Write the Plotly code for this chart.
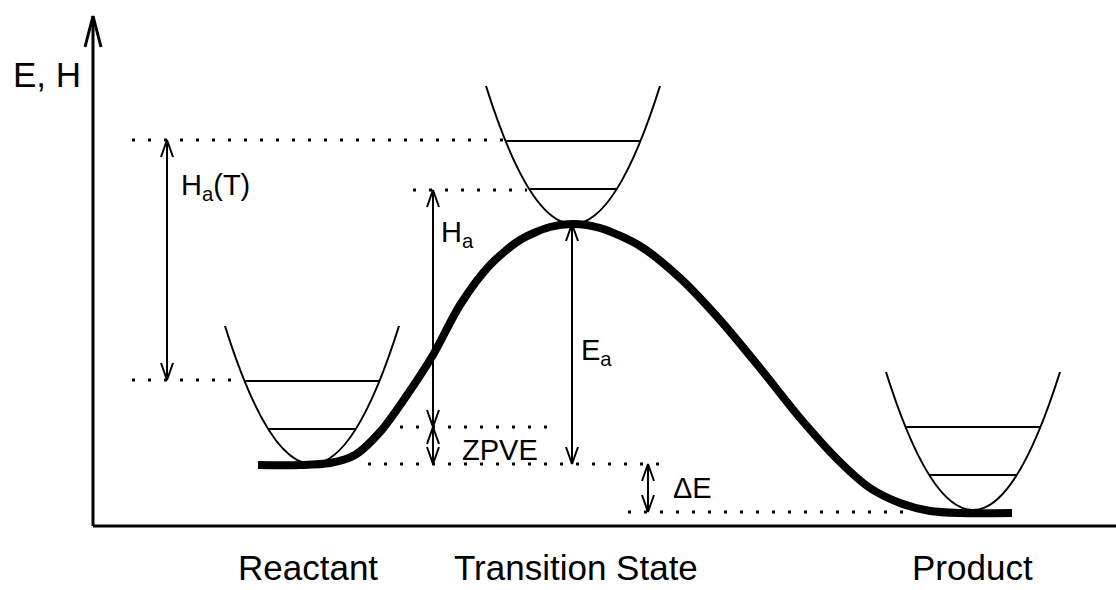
import numpy as np
import plotly.graph_objects as go

# ---- data (x = reaction coordinate in px, E = energy, baseline = x-axis) ----
state_names = ["Reactant", "Transition State", "Product"]
state_label_x = [308, 576, 972]
well_x = [312, 573, 973]          # vertex x of each harmonic well
well_E = [62, 302, 16]            # vertex energy of each well
well_depth = 138                  # energy height of drawn parabola
well_halfwidth = 87               # half width at top of parabola
vib_levels = [35, 83]             # vibrational levels above the vertex

path_x = [258, 300, 330, 355, 380, 405, 433, 460, 490, 520, 550, 573, 600,
          640, 680, 720, 760, 800, 840, 870, 900, 930, 960, 1012]
path_E = [61, 61, 63, 71, 94, 128, 171, 221, 261, 286, 299, 302, 298,
          280, 248, 206, 158, 108, 64, 38, 23, 15, 13, 13]

# reference levels (dotted) : (E, x_start, x_end)
dot_E = [386, 336, 146, 99, 62, 14]
dot_x0 = [132, 413, 132, 400, 368, 628]
dot_x1 = [503, 527, 243, 550, 665, 907]

# double arrows: (x, E_low, E_high)
arrow_x = [167, 433, 433, 572, 648]
arrow_lo = [146, 99, 62, 62, 14]
arrow_hi = [386, 336, 99, 302, 62]

labels = ["H<sub>a</sub>(T)", "H<sub>a</sub>", "ZPVE", "E<sub>a</sub>", "ΔE"]
label_x = [179, 439, 460, 579, 671]
label_E = [339, 292, 76, 174, 38]

FONT = "Arial, Liberation Sans, sans-serif"
fig = go.Figure()

# axes with arrow
ax_x = [93, 93, None, 85, 93, 101, None, 93, 1116]
ax_E = [0, 510, None, 479, 510, 479, None, 0, 0]
fig.add_trace(go.Scatter(x=ax_x, y=ax_E, mode="lines",
                         line=dict(color="black", width=3), hoverinfo="skip"))

# dotted reference lines
for e, a, b in zip(dot_E, dot_x0, dot_x1):
    fig.add_trace(go.Scatter(x=[a, b], y=[e, e], mode="lines",
                             line=dict(color="black", width=3, dash="3px,13px"),
                             hoverinfo="skip"))

# parabolas as quadratic Bezier paths + vibrational levels
lvx, lvy = [], []
for x0, e0 in zip(well_x, well_E):
    top = e0 + well_depth
    ctrl = 2 * e0 - top
    fig.add_shape(type="path", xref="x", yref="y",
                  path=f"M {x0-well_halfwidth},{top} Q {x0},{ctrl} {x0+well_halfwidth},{top}",
                  line=dict(color="black", width=2))
    for d in vib_levels:
        hw = well_halfwidth * np.sqrt(d / well_depth)
        lvx += [x0 - hw, x0 + hw, None]
        lvy += [e0 + d, e0 + d, None]
fig.add_trace(go.Scatter(x=lvx, y=lvy, mode="lines",
                         line=dict(color="black", width=2), hoverinfo="skip"))

# reaction path
fig.add_trace(go.Scatter(x=path_x, y=path_E, mode="lines",
                         line=dict(color="black", width=8, shape="spline", smoothing=0.8),
                         hoverinfo="skip"))

# double arrows
HL, HW = 17, 6
arx, ary = [], []
for x, lo, hi in zip(arrow_x, arrow_lo, arrow_hi):
    arx += [x, x, None, x - HW, x, x + HW, None, x - HW, x, x + HW, None]
    ary += [lo, hi, None, hi - HL, hi, hi - HL, None, lo + HL, lo, lo + HL, None]
fig.add_trace(go.Scatter(x=arx, y=ary, mode="lines",
                         line=dict(color="black", width=2), hoverinfo="skip"))

# labels
for t, x, e in zip(labels, label_x, label_E):
    fig.add_annotation(x=x, y=e, text=t, showarrow=False, xanchor="left",
                       yanchor="middle", font=dict(size=29, color="black", family=FONT))
for t, x in zip(state_names, state_label_x):
    fig.add_annotation(x=x, y=-41, text=t, showarrow=False, xanchor="center",
                       yanchor="middle", font=dict(size=35, color="black", family=FONT))
fig.add_annotation(x=11, y=452, text="E, H", showarrow=False, xanchor="left",
                   yanchor="middle", font=dict(size=35, color="black", family=FONT))

fig.update_layout(width=1116, height=590, autosize=False,
                  margin=dict(l=0, r=0, t=0, b=0),
                  paper_bgcolor="white", plot_bgcolor="white", showlegend=False,
                  xaxis=dict(range=[0, 1116], visible=False, fixedrange=True),
                  yaxis=dict(range=[-64, 526], visible=False, fixedrange=True))
fig.write_html("out.html", config={"displayModeBar": False},
               post_script="document.body.style.margin='0';document.body.style.overflow='hidden';")
